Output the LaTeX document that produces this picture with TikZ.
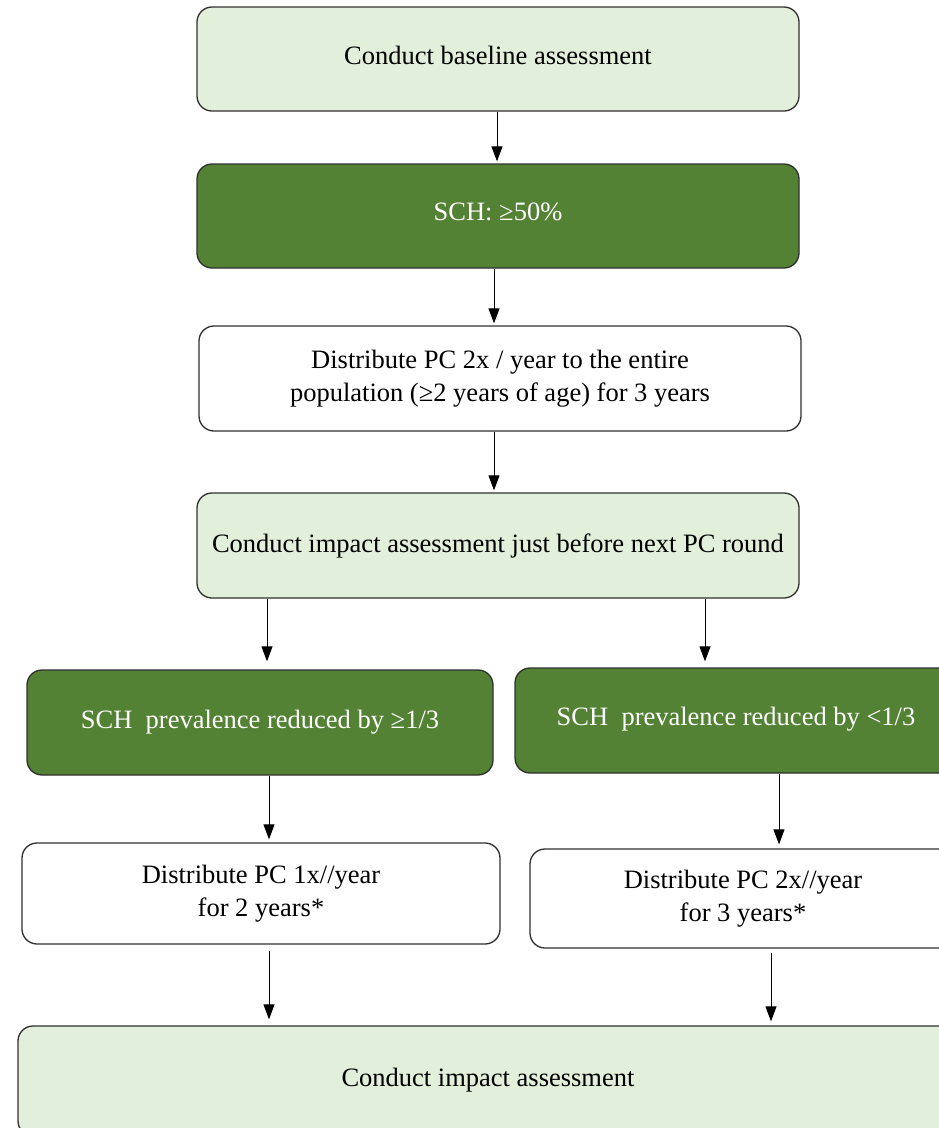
\documentclass[tikz,border=0pt]{standalone}
\usepackage{fontspec}
\setmainfont{Liberation Serif}
\usetikzlibrary{arrows.meta}
\definecolor{lightg}{HTML}{E2EFDA}
\definecolor{darkg}{HTML}{548235}
\definecolor{edge}{HTML}{303030}
\tikzset{
  box/.style={draw=edge, line width=1.3pt, rounded corners=15pt, align=center,
    font=\fontsize{26.5}{33}\selectfont, inner sep=0pt},
  lbox/.style={box, fill=lightg, text=black},
  dbox/.style={box, fill=darkg, text=white},
  wbox/.style={box, fill=white, text=black},
  arr/.style={draw=black, line width=1pt, -{Triangle[length=15pt,width=11pt]}}
}
\newcommand{\up}[1]{\raisebox{8pt}{#1}}
\begin{document}
\begin{tikzpicture}[x=1pt,y=-1pt]
\useasboundingbox (0,0) rectangle (939,1128);
\clip (0,0) rectangle (939,1128);
\node[lbox, minimum width=602pt, minimum height=104pt] (b1) at (498,59) {\up{Conduct baseline assessment}};
\node[dbox, minimum width=602pt, minimum height=104pt] (b2) at (498,216) {\up{SCH: ≥50\%}};
\node[wbox, minimum width=602pt, minimum height=105pt] (b3) at (500,378.5) {Distribute PC 2x / year to the entire\\population (≥2 years of age) for 3 years};
\node[lbox, minimum width=602pt, minimum height=105pt] (b4) at (498,545.5) {Conduct impact assessment just before next PC round};
\node[dbox, minimum width=466pt, minimum height=105pt] (b5l) at (260,722.5) {SCH\ \ prevalence reduced by ≥1/3};
\node[dbox, minimum width=442pt, minimum height=105pt] (b5r) at (736,720.5) {\up{SCH\ \ prevalence reduced by <1/3}};
\node[wbox, minimum width=478pt, minimum height=101pt] (b6l) at (261,893.5) {Distribute PC 1x//year\\for 2 years*};
\node[wbox, minimum width=426pt, minimum height=99pt] (b6r) at (743,898.5) {Distribute PC 2x//year\\for 3 years*};
\node[lbox, minimum width=940pt, minimum height=110pt] (b7) at (488,1081) {\up{Conduct impact assessment}};
\draw[arr, shorten >=2pt] (b1.south -| 497,0) -- (b2.north -| 497,0);
\draw[arr, shorten >=2pt] (b2.south -| 494,0) -- (b3.north -| 494,0);
\draw[arr, shorten >=2pt] (b3.south -| 494,0) -- (b4.north -| 494,0);
\draw[arr, shorten >=8pt] (b4.south -| 267,0) -- (b5l.north -| 267,0);
\draw[arr, shorten >=6pt] (b4.south -| 705,0) -- (b5r.north -| 705,0);
\draw[arr, shorten >=3pt] (b5l.south -| 269,0) -- (b6l.north -| 269,0);
\draw[arr, shorten >=4pt] (b5r.south -| 779,0) -- (b6r.north -| 779,0);
\draw[arr, shorten >=6pt, shorten <=6pt] (b6l.south -| 269,0) -- (b7.north -| 269,0);
\draw[arr, shorten >=4pt, shorten <=4pt] (b6r.south -| 771,0) -- (b7.north -| 771,0);
\end{tikzpicture}
\end{document}
